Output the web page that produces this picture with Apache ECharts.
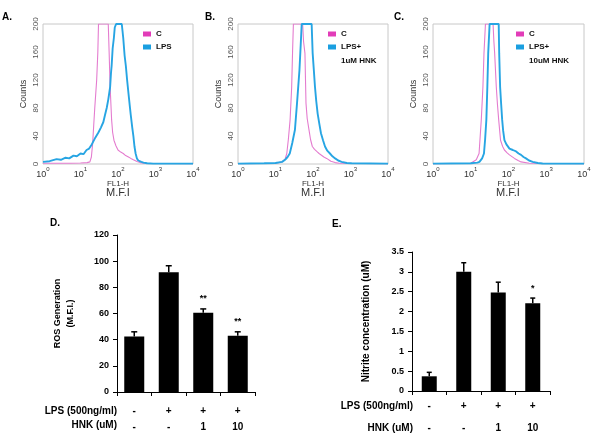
<!DOCTYPE html>
<html>
<head>
<meta charset="utf-8">
<script src="https://cdn.jsdelivr.net/npm/echarts@6/dist/echarts.min.js"></script>
<style>
html,body{margin:0;padding:0;background:#fff;}
#chart{width:600px;height:443px;}
</style>
</head>
<body>
<div id="chart"></div>
<script>
// ---------- Flow-cytometry histograms: [FL1-H intensity, counts] ----------
const histA_C = [[1,1],[5,1],[10,1.5],[15,2],[17.8,3],[19.5,10],[21,28],[22.5,55],[24,80],[27,120],[29,160],[30.2,200],[55,200],[58,160],[61.7,110],[67.6,63],[72,45],[78,34],[88,26],[100,20],[118,17],[138,15],[160,12],[190,10],[220,8],[257,6],[320,3.5],[389,2],[480,1],[10000,0.5]];
const histA_LPS = [[1,3],[1.5,4],[2.3,7],[3,6],[4,9],[5,8],[6.5,12],[8,11],[10,15],[12,14],[14.5,20],[17,22],[20,28],[22,30],[25,38],[30,45],[35,52],[40.7,60],[45,70],[50,80],[55,92],[61.7,110],[65,130],[67.6,140],[72,165],[77.6,180],[82,195],[89.1,200],[126,200],[132,190],[138,180],[150,155],[162,140],[175,120],[191,100],[209,80],[219,70],[240,52],[257,40],[275,25],[295,15],[320,8],[347,5],[420,3],[479,2],[600,1],[871,0.5],[10000,0.5]];
const histB_C = [[1,0.5],[10,1],[15,3],[18,7],[20,15],[22,35],[24.5,63],[27,110],[28.5,160],[30,200],[53,200],[56,175],[61,158],[65,87],[70,65],[78,49],[86,35],[96,25],[110,21],[126,18],[145,15],[163,13],[195,10],[231,8],[300,4],[389,2],[500,1],[10000,0.5]];
const histB_LPS = [[1,0.5],[5,1],[10,1.5],[15,3],[18,6],[21,10],[24,15],[28,30],[33,49],[37.5,87],[43.5,134],[47,170],[50,200],[92,200],[98,158],[105,135],[113,110],[122,90],[133,72],[148,57],[163,44],[185,34],[209,25],[240,19],[283,15],[330,11],[389,8],[470,5],[578,3],[800,1.5],[1070,1],[10000,0.5]];
const histC_C = [[1,0.5],[10,1],[14,6],[16.6,15],[19,63],[21,110],[22.4,158],[24.5,200],[39,200],[41,175],[43,158],[47.5,110],[51,85],[55,63],[61.5,34],[70,25],[78,20],[92,16],[106,13],[144,8],[180,5],[215,3],[356,1],[10000,0.5]];
const histC_LPS = [[1,0.5],[10,1],[15,2],[17,3],[20,8],[22.4,15],[24,35],[25.9,63],[27.5,110],[29,158],[31.6,200],[55,200],[56.7,158],[60,110],[64,85],[68,63],[72,48],[78,34],[88,28],[106,22],[130,20],[159,18],[185,15],[215,13],[250,10],[290,8],[350,5],[437,3],[600,1.5],[800,0.8],[10000,0.5]];
const histLegendA = ['C', 'LPS'];
const histLegendB = ['C', 'LPS+'];
const histLegendBsub = '1uM HNK';
const histLegendCsub = '10uM HNK';
const countTicks = [0, 200, 40];

// ---------- Bar charts ----------
const lpsRow = ['-', '+', '+', '+'];
const hnkRow = ['-', '-', '1', '10'];
const rosMean = [42.5, 91.5, 60.5, 43];
const rosErr = [3.5, 5, 3, 3];
const rosSig = ['', '', '**', '**'];
const nitriteMean = [0.37, 3.0, 2.48, 2.21];
const nitriteErr = [0.1, 0.23, 0.26, 0.13];
const nitriteSig = ['', '', '', '*'];

const FONT = 'Liberation Sans, Arial, sans-serif';
const cats = lpsRow.map((l, i) => l + '|' + hnkRow[i]);
const PINK_ICON = '#e23cb8', PINK_LINE = '#e47ccf';
const BLUE_ICON = '#1a9fe0', BLUE_LINE = '#27a5e3';

const chart = echarts.init(document.getElementById('chart'), null, {renderer: 'canvas'});

const histGrids = [
  {left: 43, top: 24, width: 150, height: 140},
  {left: 238, top: 24, width: 150, height: 140},
  {left: 433, top: 24, width: 151, height: 140}
];
const grids = histGrids.map(g => Object.assign({show: true, borderColor: '#c8c8c8', borderWidth: 1, backgroundColor: '#fff'}, g))
  .concat([
    {left: 117, top: 235, width: 138, height: 157},
    {left: 412, top: 252, width: 138, height: 139}
  ]);

function histX(i) {
  return {
    type: 'log', logBase: 10, min: 1, max: 10000, gridIndex: i,
    axisLine: {show: false}, axisTick: {show: false}, splitLine: {show: false},
    axisLabel: {
      margin: 2,
      formatter: v => '{b|10}{s|' + Math.round(Math.log10(v)) + '}',
      rich: {
        b: {fontSize: 9, fontFamily: FONT, color: '#333', lineHeight: 13, verticalAlign: 'bottom'},
        s: {fontSize: 6, fontFamily: FONT, color: '#333', lineHeight: 8, verticalAlign: 'top'}
      }
    },
    name: 'FL1-H', nameLocation: 'middle', nameGap: 14,
    nameTextStyle: {fontSize: 8, fontFamily: FONT, color: '#333'}
  };
}
function histY(i) {
  return {
    type: 'value', gridIndex: i, min: countTicks[0], max: countTicks[1], interval: countTicks[2],
    axisLine: {show: false}, axisTick: {show: false}, splitLine: {show: false},
    axisLabel: {rotate: 90, margin: 3, fontSize: 8, fontFamily: FONT, color: '#555'},
    name: 'Counts', nameLocation: 'middle', nameGap: 15, nameRotate: 90,
    nameTextStyle: {fontSize: 9, fontFamily: FONT, color: '#333'}
  };
}
function barX(i, margin, lh) {
  return {
    type: 'category', gridIndex: i, data: cats,
    axisLine: {lineStyle: {color: '#000', width: 1}},
    axisTick: {show: true, length: 4, lineStyle: {color: '#000'}},
    axisLabel: {
      margin: margin, interval: 0,
      formatter: v => { const p = v.split('|'); return '{a|' + p[0] + '}\n{a|' + p[1] + '}'; },
      rich: {a: {fontSize: 10, fontWeight: 'bold', fontFamily: FONT, color: '#000', lineHeight: lh}}
    }
  };
}
function barY(i, max, interval, fs, name, gap, nfs) {
  return {
    type: 'value', gridIndex: i, min: 0, max: max, interval: interval,
    axisLine: {show: true, lineStyle: {color: '#000', width: 1}},
    axisTick: {show: true, length: 4, lineStyle: {color: '#000'}},
    splitLine: {show: false},
    axisLabel: {fontSize: fs, fontWeight: 'bold', fontFamily: FONT, color: '#000', margin: 8},
    name: name, nameLocation: 'middle', nameGap: gap, nameRotate: 90,
    nameTextStyle: {fontSize: nfs, fontWeight: 'bold', fontFamily: FONT, color: '#000', lineHeight: 13}
  };
}

function histLine(name, data, idx, iconColor, lineColor, w) {
  return {
    type: 'line', name: name, data: data, xAxisIndex: idx, yAxisIndex: idx,
    showSymbol: false, symbol: 'none', clip: true, silent: true,
    itemStyle: {color: iconColor},
    lineStyle: {color: lineColor, width: w}
  };
}

function errRender(means, errs, sig, capW, gap) {
  return function (params, api) {
    const i = params.dataIndex;
    const base = api.coord([i, means[i]]);
    const top = api.coord([i, means[i] + errs[i]]);
    const children = [
      {type: 'line', shape: {x1: base[0], y1: base[1], x2: top[0], y2: top[1]}, style: {stroke: '#000', lineWidth: 1.5}},
      {type: 'line', shape: {x1: top[0] - capW / 2, y1: top[1], x2: top[0] + capW / 2, y2: top[1]}, style: {stroke: '#000', lineWidth: 1.5}}
    ];
    if (sig[i]) {
      children.push({type: 'text', x: top[0], y: top[1] - gap,
        style: {text: sig[i], align: 'center', verticalAlign: 'middle', font: 'bold 9px ' + FONT, fill: '#000'}});
    }
    return {type: 'group', children: children};
  };
}

function legend(left, top, data) {
  return {
    left: left, top: top, orient: 'vertical', padding: 0, itemGap: 5,
    itemWidth: 8, itemHeight: 5, icon: 'rect', data: data, selectedMode: false,
    textStyle: {fontSize: 8, fontWeight: 'bold', fontFamily: FONT, color: '#111'}
  };
}

function txt(x, y, text, font, align, color) {
  return {type: 'text', x: x, y: y, style: {text: text, font: font, align: align || 'left', verticalAlign: 'middle', fill: color || '#000'}};
}

const option = {
  backgroundColor: '#fff',
  animation: false,
  grid: grids,
  xAxis: [histX(0), histX(1), histX(2), barX(3, 11, 16), barX(4, 4, 22)],
  yAxis: [histY(0), histY(1), histY(2),
    barY(3, 120, 20, 9, 'ROS Generation\n(M.F.I.)', 40, 9),
    barY(4, 3.5, 0.5, 9, 'Nitrite concentration (uM)', 39, 10)],
  legend: [
    legend(143, 30, histLegendA),
    legend(328, 30, histLegendB),
    legend(516, 30, histLegendB)
  ],
  series: [
    histLine('C', histA_C, 0, PINK_ICON, PINK_LINE, 1.1),
    histLine(histLegendA[1], histA_LPS, 0, BLUE_ICON, BLUE_LINE, 1.9),
    histLine('C', histB_C, 1, PINK_ICON, PINK_LINE, 1.1),
    histLine(histLegendB[1], histB_LPS, 1, BLUE_ICON, BLUE_LINE, 1.9),
    histLine('C', histC_C, 2, PINK_ICON, PINK_LINE, 1.1),
    histLine(histLegendB[1], histC_LPS, 2, BLUE_ICON, BLUE_LINE, 1.9),
    {type: 'bar', xAxisIndex: 3, yAxisIndex: 3, data: rosMean, barWidth: 20, itemStyle: {color: '#000'}, silent: true},
    {type: 'custom', xAxisIndex: 3, yAxisIndex: 3, data: rosMean.map((m, i) => [i, m + rosErr[i]]),
      renderItem: errRender(rosMean, rosErr, rosSig, 6, 10), silent: true},
    {type: 'bar', xAxisIndex: 4, yAxisIndex: 4, data: nitriteMean, barWidth: 15, itemStyle: {color: '#000'}, silent: true},
    {type: 'custom', xAxisIndex: 4, yAxisIndex: 4, data: nitriteMean.map((m, i) => [i, m + nitriteErr[i]]),
      renderItem: errRender(nitriteMean, nitriteErr, nitriteSig, 5, 10), silent: true}
  ],
  graphic: [
    txt(2, 17, 'A.', 'bold 10px ' + FONT),
    txt(205, 17, 'B.', 'bold 10px ' + FONT),
    txt(394, 17, 'C.', 'bold 10px ' + FONT),
    txt(50, 223, 'D.', 'bold 10px ' + FONT),
    txt(332, 224, 'E.', 'bold 10px ' + FONT),
    txt(118, 193, 'M.F.I', '11px ' + FONT, 'center', '#333'),
    txt(313, 193, 'M.F.I', '11px ' + FONT, 'center', '#333'),
    txt(508, 193, 'M.F.I', '11px ' + FONT, 'center', '#333'),
    txt(341, 61, histLegendBsub, 'bold 8px ' + FONT, 'left', '#111'),
    txt(529, 61, histLegendCsub, 'bold 8px ' + FONT, 'left', '#111'),
    txt(117, 411, 'LPS (500ng/ml)', 'bold 10px ' + FONT, 'right'),
    txt(117, 425, 'HNK (uM)', 'bold 10px ' + FONT, 'right'),
    txt(413, 406, 'LPS (500ng/ml)', 'bold 10px ' + FONT, 'right'),
    txt(413, 428, 'HNK (uM)', 'bold 10px ' + FONT, 'right')
  ]
};
chart.setOption(option);
</script>
</body>
</html>
